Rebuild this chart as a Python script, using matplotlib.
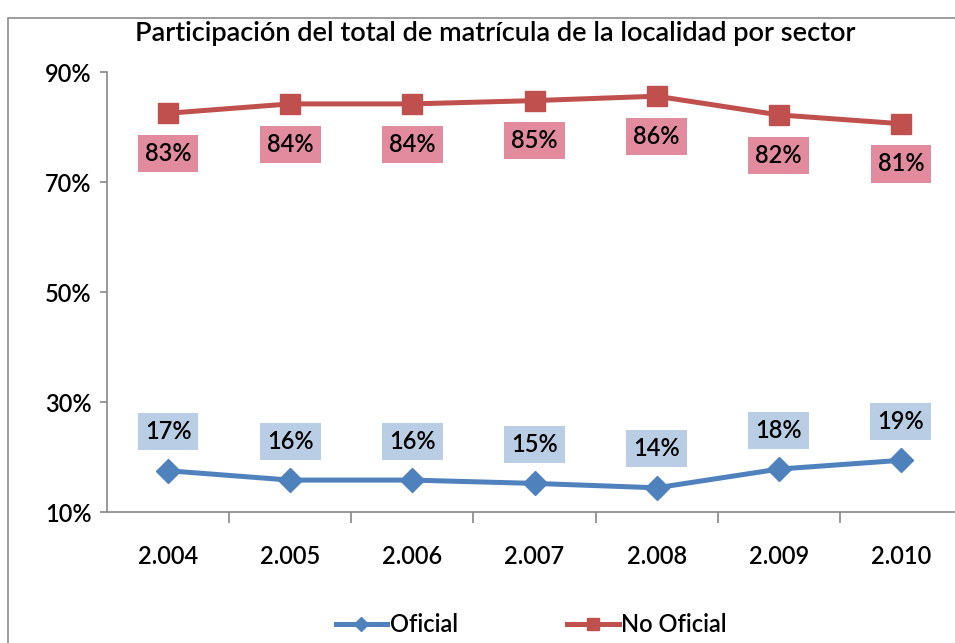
import matplotlib
matplotlib.use('Agg')
import matplotlib.pyplot as plt
from matplotlib.patches import Rectangle

years = ['2.004', '2.005', '2.006', '2.007', '2.008', '2.009', '2.010']
oficial = [17.5, 15.8, 15.8, 15.2, 14.4, 17.8, 19.4]
no_oficial = [82.5, 84.2, 84.2, 84.8, 85.6, 82.2, 80.6]
oficial_labels = ['17%', '16%', '16%', '15%', '14%', '18%', '19%']
no_oficial_labels = ['83%', '84%', '84%', '85%', '86%', '82%', '81%']

BLUE = '#4F81BD'
RED = '#C0504D'
FONT = ['Lato', 'DejaVu Sans']

plt.rcParams['font.family'] = FONT
plt.rcParams['font.weight'] = 'semibold'

fig = plt.figure(figsize=(9.55, 6.43), dpi=100)
fig.patches.append(Rectangle((8 / 955, -0.01), 1.0, 1 - 18 / 643 + 0.01,
                             transform=fig.transFigure, fill=False,
                             edgecolor='#8c8c8c', linewidth=1.2))

ax = fig.add_axes([107 / 955, 1 - 512 / 643, 855 / 955, 440 / 643])
x = list(range(len(years)))

ax.plot(x, oficial, color=BLUE, linewidth=3.6, marker='D', markersize=12,
        label='Oficial')
ax.plot(x, no_oficial, color=RED, linewidth=3.6, marker='s', markersize=14,
        label='No Oficial')

for xi, v, t in zip(x, oficial, oficial_labels):
    ax.annotate(t, (xi, v), xytext=(0, 28), textcoords='offset points',
                ha='center', va='center', fontsize=17,
                bbox=dict(boxstyle='square,pad=0.3', fc='#B9CDE5', ec='none'))
for xi, v, t in zip(x, no_oficial, no_oficial_labels):
    ax.annotate(t, (xi, v), xytext=(0, -29), textcoords='offset points',
                ha='center', va='center', fontsize=17,
                bbox=dict(boxstyle='square,pad=0.3', fc='#E28B9E', ec='none'))

ax.set_xlim(-0.5, len(years) - 0.5)
ax.set_ylim(10, 90)
ax.set_yticks([10, 30, 50, 70, 90])
ax.set_yticklabels(['10%', '30%', '50%', '70%', '90%'], fontsize=17)
ax.set_xticks(x)
ax.set_xticklabels(years, fontsize=17)
ax.set_xticks([i + 0.5 for i in x[:-1]], minor=True)
ax.tick_params(axis='x', which='major', length=0, pad=24)
ax.tick_params(axis='x', which='minor', length=8, color='#888888', width=1.2)
ax.tick_params(axis='y', length=5, color='#888888', width=1.2, pad=6)

for side in ['top', 'right']:
    ax.spines[side].set_visible(False)
for side in ['left', 'bottom']:
    ax.spines[side].set_color('#888888')
    ax.spines[side].set_linewidth(1.2)

fig.text(495 / 955, 1 - 34 / 643,
         'Participación del total de matrícula de la localidad por sector',
         ha='center', va='center', fontsize=19.5)

fig.legend(loc='center', bbox_to_anchor=(531 / 955, 1 - 625 / 643), ncol=2,
           frameon=False, fontsize=17, handlelength=2.2, columnspacing=4.6,
           handletextpad=0.1, markerscale=0.6)

fig.savefig('out.png', dpi=100)
